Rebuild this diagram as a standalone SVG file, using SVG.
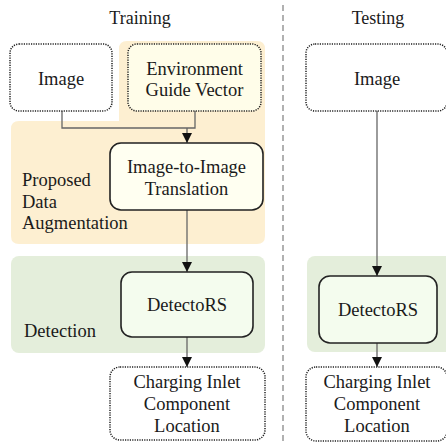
<svg xmlns="http://www.w3.org/2000/svg" width="446" height="443" viewBox="0 0 446 443">
<defs>
<marker id="arr" viewBox="0 0 10 10" refX="10" refY="5" markerWidth="10" markerHeight="10" markerUnits="userSpaceOnUse" orient="auto">
<path d="M0,0 L10,5 L0,10 Z" fill="#111"/>
</marker>
<style>
text{font-family:"Liberation Serif","Times New Roman",serif;font-size:18.5px;fill:#1a1a1a;text-anchor:middle}
.lbl{text-anchor:start}
.title{font-size:18px}
.dot{fill:#fff;stroke:#222;stroke-width:1.5;stroke-dasharray:1.2 1.2}
.solid{stroke:#222;stroke-width:1.6}
.conn{fill:none;stroke:#666;stroke-width:1.3}
</style>
</defs>
<rect width="446" height="443" fill="#fff"/>
<g id="regions">
<path d="M127,41 H257 Q265,41 265,49 V236 Q265,244 257,244 H19 Q11,244 11,236 V129 Q11,121 19,121 H119 V49 Q119,41 127,41 Z" fill="#fdefd1"/>
<rect x="11" y="256" width="254" height="97" rx="8" fill="#e4eedb"/>
<rect x="307" y="256" width="146" height="96" rx="8" fill="#e4eedb"/>
</g>
<line id="divider" x1="283" y1="5" x2="283" y2="441" stroke="#888" stroke-width="1.3" stroke-dasharray="6 4"/>
<g id="titles">
<text class="title" x="140" y="24">Training</text>
<text class="title" x="378" y="24">Testing</text>
<text class="lbl" x="22" y="186">Proposed</text>
<text class="lbl" x="22" y="207.5">Data</text>
<text class="lbl" x="22" y="229">Augmentation</text>
<text class="lbl" x="24" y="337">Detection</text>
</g>
<g id="connectors">
<polyline class="conn" points="62,111 62,128 195,128 195,111"/>
<line class="conn" x1="187" y1="128" x2="187" y2="143" marker-end="url(#arr)"/>
<line class="conn" x1="187" y1="210" x2="187" y2="272" marker-end="url(#arr)"/>
<line class="conn" x1="187" y1="337" x2="187" y2="367" marker-end="url(#arr)"/>
<line class="conn" x1="377" y1="111" x2="377" y2="276" marker-end="url(#arr)"/>
<line class="conn" x1="377" y1="343" x2="377" y2="367" marker-end="url(#arr)"/>
</g>
<g id="train-image">
<rect class="dot" x="10" y="44" width="102" height="67" rx="9"/>
<text x="61" y="85">Image</text>
</g>
<g id="env-vector">
<rect class="dot" x="128" y="44" width="133" height="67" rx="9" style="fill:#fffde9"/>
<text x="194.5" y="74.5">Environment</text>
<text x="194.5" y="96">Guide Vector</text>
</g>
<g id="translation">
<rect class="solid" x="110" y="143" width="153" height="67" rx="11" fill="#fffff1"/>
<text x="186.5" y="173">Image-to-Image</text>
<text x="186.5" y="194.5">Translation</text>
</g>
<g id="train-detectors">
<rect class="solid" x="121" y="272" width="132" height="65" rx="11" fill="#f4fcee"/>
<text x="187" y="311">DetectoRS</text>
</g>
<g id="train-output">
<rect class="dot" x="110" y="367" width="155" height="73" rx="10"/>
<text x="187" y="388">Charging Inlet</text>
<text x="187" y="410">Component</text>
<text x="187" y="432">Location</text>
</g>
<g id="test-image">
<rect class="dot" x="306" y="44" width="141" height="67" rx="9"/>
<text x="377" y="85">Image</text>
</g>
<g id="test-detectors">
<rect class="solid" x="319" y="276" width="118" height="67" rx="11" fill="#f4fcee"/>
<text x="378" y="316">DetectoRS</text>
</g>
<g id="test-output">
<rect class="dot" x="306" y="367" width="141" height="74" rx="10"/>
<text x="377" y="388">Charging Inlet</text>
<text x="377" y="410">Component</text>
<text x="377" y="432">Location</text>
</g>
</svg>
